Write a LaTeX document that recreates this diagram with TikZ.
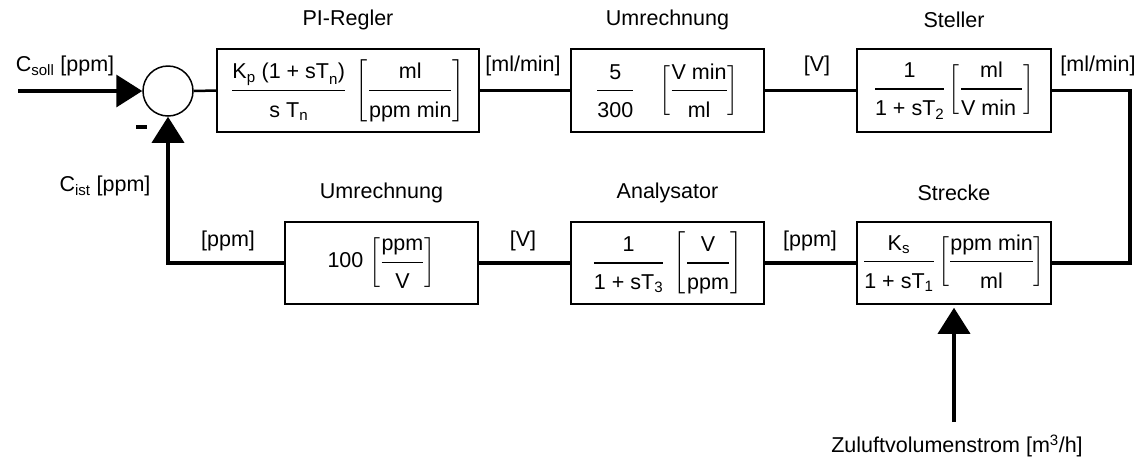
\documentclass[tikz,border=0pt]{standalone}
\usepackage{amsmath}
\usepackage{fontspec}
\setmainfont{Liberation Sans}
\usetikzlibrary{arrows.meta}
\newcommand\tx[1]{\text{#1}}
\newcommand\fr[2]{\genfrac{}{}{1.3pt}{0}{#1\rule[-7pt]{0pt}{7pt}}{\rule{0pt}{22pt}#2}}
\tikzset{
  blk/.style={draw, line width=1.5pt, minimum width=193pt, minimum height=83pt, inner sep=0pt, fill=white},
  sumnode/.style={draw, circle, line width=1.5pt, minimum size=50pt, inner sep=0pt},
  sig/.style={line width=3.5pt},
  thinsig/.style={line width=2.5pt},
  bigtip/.style={-{Triangle[length=26pt,width=32pt]}},
  lbl/.style={inner sep=0pt},
}
\begin{document}
\begin{tikzpicture}[x=1pt,y=-1pt, font=\fontsize{21.5}{25}\selectfont]
\useasboundingbox (0,0) rectangle (1141,459);
% summing junction
\node[sumnode] (s) at (168,91) {};
% top row
\node[blk, minimum width=262pt] (pi) at (348,90.5)
  {$\fr{\tx{K}_{\tx{p}}\tx{ (1 + sT}_{\tx{n}}\tx{)}}{\tx{s T}_{\tx{n}}}\ \left[\fr{\tx{ml}}{\tx{ppm min}}\right]$};
\node[blk] (um1) at (667.5,90.5)
  {$\fr{\tx{5}}{\tx{300}}\quad\left[\fr{\tx{V min}}{\tx{ml}}\right]$};
\node[blk, minimum width=194pt] (st) at (954,90.5)
  {$\fr{\tx{1}}{\tx{1 + sT}_{\tx{2}}}\left[\fr{\tx{ml}}{\tx{V min }}\right]$};
% bottom row
\node[blk, minimum width=194pt, minimum height=82pt] (str) at (954,263)
  {$\fr{\tx{K}_{\tx{s}}}{\tx{1 + sT}_{\tx{1}}}\left[\fr{\tx{ppm min}}{\tx{ml}}\right]$};
\node[blk, minimum height=82pt] (an) at (667.5,263)
  {$\fr{\tx{1}}{\tx{1 + sT}_{\tx{3}}}\ \left[\fr{\tx{V}}{\tx{ppm}}\right]$};
\node[blk, minimum height=82pt] (um2) at (381.5,263)
  {\tx{100}\ $\left[\fr{\tx{ppm}}{\tx{V}}\right]$};
% titles
\node[lbl] (t1) at (348,20) {PI-Regler};
\node[lbl] (t2) at (667.5,20) {Umrechnung};
\node[lbl] (t3) at (954,20) {Steller};
\node[lbl] (t4) at (381.5,193) {Umrechnung};
\node[lbl] (t5) at (667.5,193) {Analysator};
\node[lbl] (t6) at (954,193) {Strecke};
% signal labels
\node[lbl] (csoll) at (65,66) {C\textsubscript{soll} [ppm]};
\node[lbl] (cist) at (105,186) {C\textsubscript{ist} [ppm]};
\node[lbl] (l1) at (523,66) {[ml/min]};
\node[lbl] (l2) at (817,66) {[V]};
\node[lbl] (l3) at (1098,66) {[ml/min]};
\node[lbl] (l4) at (228,241) {[ppm]};
\node[lbl] (l5) at (523,241) {[V]};
\node[lbl] (l6) at (810,241) {[ppm]};
\node[lbl] (zu) at (957,446) {Zuluftvolumenstrom [m\textsuperscript{3}/h]};
\node[inner sep=0pt, fill=black, minimum width=11pt, minimum height=4.5pt] (minus) at (141,127) {};
% coordinates
\coordinate (in) at (18,91);
\coordinate (rc) at (1130,177);
\coordinate (dz) at (954,422);
% connectors
\draw[sig, bigtip] (in) -- (s.west);
\draw[thinsig] (s.east) -- (pi.west);
\draw[sig] (pi.east) -- (um1.west);
\draw[sig] (um1.east) -- (st.west);
\draw[sig] (st.east) -| (rc) |- (str.east);
\draw[sig] (str.west) -- (an.east);
\draw[sig] (an.west) -- (um2.east);
\draw[sig, bigtip] (um2.west) -| (s.south);
\draw[sig, bigtip, shorten >=3pt] (dz) -- (str.south);
\end{tikzpicture}
\end{document}
